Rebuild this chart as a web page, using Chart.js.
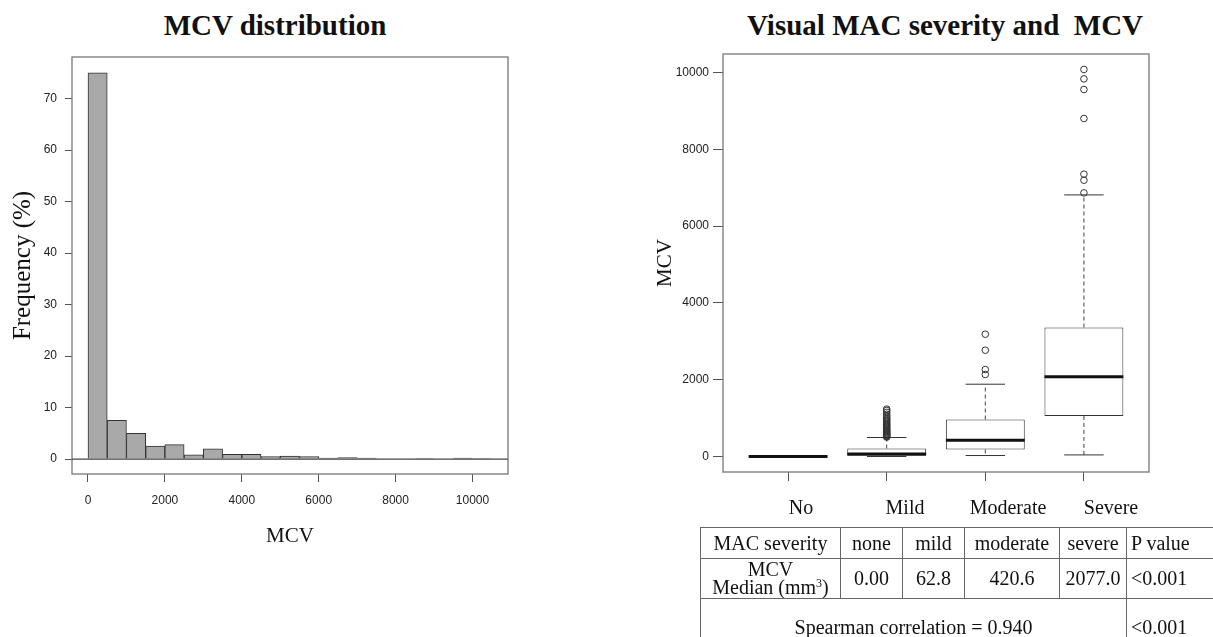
<!DOCTYPE html>
<html><head><meta charset="utf-8">
<script src="https://cdn.jsdelivr.net/npm/chart.js@4.4.1/dist/chart.umd.min.js"></script>
<style>
html,body{margin:0;padding:0;background:#fff;width:1213px;height:637px;overflow:hidden;position:relative;font-family:"Liberation Serif","Times New Roman",serif;color:#111;}
.title{position:absolute;top:11px;font-weight:bold;font-size:29px;line-height:1;white-space:pre;transform:translateX(-50%);}
#c1{position:absolute;left:0;top:0;}
#c2{position:absolute;left:600px;top:0;}
.cat{position:absolute;top:497px;font-size:20px;line-height:1;white-space:pre;transform:translateX(-50%);}
table{position:absolute;left:700px;top:527px;border-collapse:collapse;table-layout:fixed;font-size:20px;width:530px;}
td{border:1px solid #666;text-align:center;padding:0;line-height:1.15;white-space:nowrap;overflow:hidden;}
td.pv{text-align:left;padding-left:4px;}
sup{font-size:12px;vertical-align:7px;line-height:0;}
</style></head>
<body>
<div class="title" style="left:275px">MCV distribution</div>
<div class="title" style="left:945px">Visual MAC severity and  MCV</div>
<canvas id="c1" width="560" height="560"></canvas>
<canvas id="c2" width="613" height="500"></canvas>
<div class="cat" style="left:801px">No</div>
<div class="cat" style="left:905px">Mild</div>
<div class="cat" style="left:1008px">Moderate</div>
<div class="cat" style="left:1111px">Severe</div>
<table>
<colgroup><col style="width:140px"><col style="width:62px"><col style="width:62px"><col style="width:95px"><col style="width:67px"><col style="width:104px"></colgroup>
<tr style="height:31px"><td>MAC severity</td><td>none</td><td>mild</td><td>moderate</td><td>severe</td><td class="pv">P value</td></tr>
<tr style="height:37px"><td style="line-height:0.9;padding-top:1px;padding-bottom:2px">MCV<br>Median (mm<sup>3</sup>)</td><td>0.00</td><td>62.8</td><td>420.6</td><td>2077.0</td><td class="pv">&lt;0.001</td></tr>
<tr style="height:58px"><td colspan="5" style="vertical-align:top;padding-top:17px">Spearman correlation = 0.940</td><td class="pv" style="vertical-align:top;padding-top:17px">&lt;0.001</td></tr>
</table>
<script>
// ---------- Histogram data ----------
const binStart = [0, 500, 1000, 1500, 2000, 2500, 3000, 3500, 4000, 4500, 5000, 5500, 6000, 6500, 7000, 7500, 8000, 8500, 9000, 9500, 10000];
const freqPct  = [75, 7.5, 5.0, 2.5, 2.8, 0.8, 2.0, 0.9, 0.9, 0.5, 0.6, 0.5, 0.2, 0.3, 0.2, 0, 0, 0.1, 0, 0.2, 0.1];
const histXTicks = [0, 2000, 4000, 6000, 8000, 10000];
const histYTicks = [0, 10, 20, 30, 40, 50, 60, 70];

// ---------- Boxplot data ----------
const severity   = ['No', 'Mild', 'Moderate', 'Severe'];
const boxQ1      = [0, 20, 182, 1057];
const boxMedian  = [0, 62.8, 420.6, 2077.0];
const boxQ3      = [0, 208, 963, 3359];
const whiskerLow = [0, 0, 26, 42];
const whiskerHigh= [0, 495, 1883, 6812];
const outNo       = [];
const outMild     = [505, 520, 540, 555, 575, 590, 610, 630, 650, 670, 690, 715, 740, 765, 790, 815, 840, 870, 900, 930, 960, 990, 1020, 1060, 1100, 1150, 1200, 1235];
const outModerate = [2135, 2266, 2768, 3185];
const outSevere   = [6865, 7195, 7352, 8802, 9557, 9833, 10078];
const boxYTicks = [0, 2000, 4000, 6000, 8000, 10000];

const SANS = '"Liberation Sans", Arial, Helvetica, sans-serif';
const SERIF = '"Liberation Serif", "Times New Roman", serif';

const framePlugin = {
  id: 'frame',
  afterDatasetsDraw(chart, args, opts) {
    const {ctx, chartArea: a} = chart;
    ctx.save();
    ctx.strokeStyle = opts.color || '#666';
    ctx.lineWidth = opts.width || 1.3;
    ctx.strokeRect(a.left, a.top, a.right - a.left, a.bottom - a.top);
    if (opts.zeroLine) {
      const y = chart.scales.y.getPixelForValue(0);
      ctx.strokeStyle = '#444';
      ctx.lineWidth = 1.2;
      ctx.beginPath(); ctx.moveTo(a.left, y); ctx.lineTo(a.right, y); ctx.stroke();
    }
    ctx.restore();
  }
};
Chart.register(framePlugin);
const plain = v => String(v);

// ---------- Chart 1: histogram ----------
new Chart(document.getElementById('c1'), {
  type: 'bar',
  data: {
    datasets: [{
      data: binStart.map((s, i) => ({x: s + 250, y: freqPct[i]})),
      backgroundColor: '#a9a9a9',
      borderColor: '#333',
      borderWidth: 1,
      barPercentage: 1,
      categoryPercentage: 1,
      borderSkipped: 'start'
    }]
  },
  options: {
    responsive: false, animation: false, events: [],
    layout: {padding: {top: 57, right: 52, left: 0, bottom: 0}},
    plugins: {legend: {display: false}, tooltip: {enabled: false}, frame: {color: '#777', width: 1.3, zeroLine: true}},
    scales: {
      x: {
        type: 'linear', min: -416, max: 10923, offset: false,
        afterBuildTicks: s => { s.ticks = histXTicks.map(v => ({value: v})); },
        afterFit: s => { s.height = 86; },
        grid: {offset: false, drawOnChartArea: false, drawTicks: true, tickLength: 8, color: '#555'},
        border: {display: false},
        ticks: {callback: plain, font: {family: SANS, size: 12}, color: '#222', padding: 11, maxRotation: 0, autoSkip: false},
        title: {display: true, text: 'MCV', font: {family: SERIF, size: 21}, color: '#111', padding: {top: 0, bottom: 11}}
      },
      y: {
        min: -2.9, max: 78.06,
        afterBuildTicks: s => { s.ticks = histYTicks.map(v => ({value: v})); },
        afterFit: s => { s.width = 72; },
        grid: {drawOnChartArea: false, drawTicks: true, tickLength: 7, color: '#555'},
        border: {display: false},
        ticks: {callback: plain, font: {family: SANS, size: 12}, color: '#222', padding: 8, autoSkip: false},
        title: {display: true, text: 'Frequency (%)', font: {family: SERIF, size: 25}, color: '#111', padding: {top: 8, bottom: 0}}
      }
    }
  }
});

// ---------- Chart 2: boxplot ----------
const xs = severity.map((_, i) => i + 1);
const outliersAll = [outNo, outMild, outModerate, outSevere];
const gap = x => ({x: x, y: null});
const whiskerPts = [], capPts = [], medPts = [], outPts = [];
xs.forEach((x, i) => {
  whiskerPts.push({x, y: boxQ3[i]}, {x, y: whiskerHigh[i]}, gap(x), {x, y: boxQ1[i]}, {x, y: whiskerLow[i]}, gap(x));
  capPts.push({x: x - 0.2, y: whiskerHigh[i]}, {x: x + 0.2, y: whiskerHigh[i]}, gap(x), {x: x - 0.2, y: whiskerLow[i]}, {x: x + 0.2, y: whiskerLow[i]}, gap(x));
  medPts.push({x: x - 0.4, y: boxMedian[i]}, {x: x + 0.4, y: boxMedian[i]}, gap(x));
  outliersAll[i].forEach(v => outPts.push({x, y: v}));
});

new Chart(document.getElementById('c2'), {
  type: 'bar',
  data: {
    datasets: [
      {type: 'line', data: medPts, borderColor: '#111', borderWidth: 3, pointRadius: 0, fill: false, spanGaps: false, order: 1},
      {type: 'line', data: outPts, showLine: false, pointStyle: 'circle', pointRadius: 3.3, pointBorderWidth: 1, pointBorderColor: '#333', pointBackgroundColor: 'rgba(255,255,255,0)', order: 2},
      {type: 'line', data: capPts, borderColor: '#333', borderWidth: 1, pointRadius: 0, fill: false, spanGaps: false, order: 3},
      {type: 'line', data: whiskerPts, borderColor: '#444', borderWidth: 1, borderDash: [4, 3], pointRadius: 0, fill: false, spanGaps: false, order: 4},
      {type: 'bar', data: xs.map((x, i) => ({x, y: [boxQ1[i], boxQ3[i]]})), backgroundColor: '#fff', borderColor: '#333', borderWidth: 1, borderSkipped: false, barPercentage: 0.8, categoryPercentage: 1, order: 5}
    ]
  },
  options: {
    responsive: false, animation: false, events: [],
    layout: {padding: {top: 54, right: 64, left: 0, bottom: 0}},
    plugins: {legend: {display: false}, tooltip: {enabled: false}, frame: {color: '#777', width: 1.3}},
    scales: {
      x: {
        type: 'linear', min: 0.34, max: 4.66, offset: false,
        afterBuildTicks: s => { s.ticks = xs.map(v => ({value: v})); },
        afterFit: s => { s.height = 28; },
        grid: {offset: false, drawOnChartArea: false, drawTicks: true, tickLength: 9, color: '#555'},
        border: {display: false},
        ticks: {callback: () => '', font: {family: SANS, size: 12}}
      },
      y: {
        min: -403, max: 10481,
        afterBuildTicks: s => { s.ticks = boxYTicks.map(v => ({value: v})); },
        afterFit: s => { s.width = 123; },
        grid: {drawOnChartArea: false, drawTicks: true, tickLength: 10, color: '#555'},
        border: {display: false},
        ticks: {callback: plain, font: {family: SANS, size: 12}, color: '#222', padding: 4, autoSkip: false},
        title: {display: true, text: 'MCV', font: {family: SERIF, size: 21}, color: '#111', padding: {top: 53, bottom: 0}}
      }
    }
  }
});
</script>
</body></html>
